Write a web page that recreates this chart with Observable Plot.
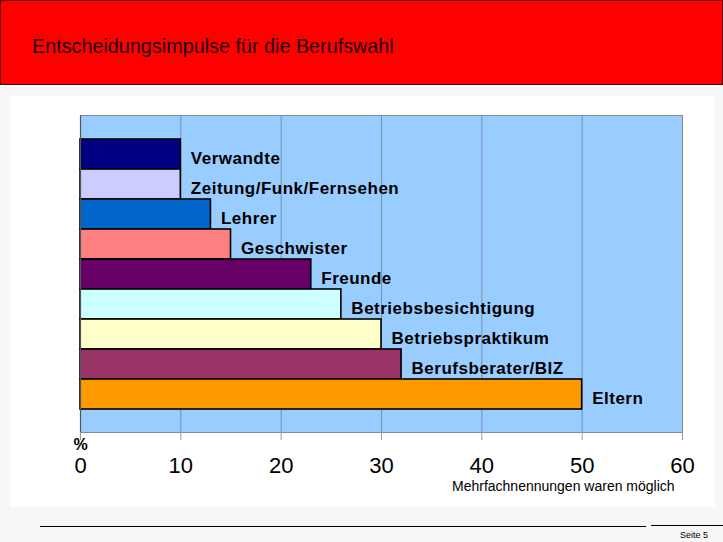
<!DOCTYPE html>
<html>
<head>
<meta charset="utf-8">
<script src="https://cdn.jsdelivr.net/npm/d3@7"></script>
<script src="https://cdn.jsdelivr.net/npm/@observablehq/plot@0.6"></script>
<style>
  html, body { margin: 0; padding: 0; }
  body { width: 723px; height: 542px; overflow: hidden; background: #f7f7f7; font-family: Arial, "Liberation Sans", sans-serif; }
  #page { position: relative; width: 723px; height: 542px; }
  #header { position: absolute; left: 0; top: 0; width: 721px; height: 83px; background: #ff0000; border: 1px solid #5a0000; }
  #title { position: absolute; left: 31px; top: 34px; font-size: 19.8px; color: #1a0000; white-space: nowrap; }
  #panel { position: absolute; left: 10px; top: 96px; width: 705px; height: 411px; background: #ffffff; }
  #chart { position: absolute; left: 0; top: 96px; }
  #note { position: absolute; left: 452px; top: 478px; font-size: 14px; color: #000; white-space: nowrap; }
  #line1 { position: absolute; left: 40px; top: 526px; width: 606px; height: 1px; background: #000; }
  #line2 { position: absolute; left: 651px; top: 525px; width: 72px; height: 1px; background: #000; }
  #seite { position: absolute; left: 680px; top: 530px; font-size: 9px; color: #000; white-space: nowrap; }
  .barlabels { letter-spacing: 0.5px; }
</style>
</head>
<body>
<div id="page">
  <div id="header"><div id="title">Entscheidungsimpulse für die Berufswahl</div></div>
  <div id="panel"></div>
  <div id="chart"></div>
  <div id="note">Mehrfachnennungen waren möglich</div>
  <div id="line1"></div>
  <div id="line2"></div>
  <div id="seite">Seite 5</div>
</div>
<script>
const categories = ["Verwandte", "Zeitung/Funk/Fernsehen", "Lehrer", "Geschwister", "Freunde", "Betriebsbesichtigung", "Betriebspraktikum", "Berufsberater/BIZ", "Eltern"];
const values = [10, 10, 13, 15, 23, 26, 30, 32, 50];
const colors = ["#000080", "#ccccff", "#0066cc", "#ff8080", "#660066", "#ccffff", "#ffffcc", "#993366", "#ff9900"];
const xTicks = [0, 10, 20, 30, 40, 50, 60];
const gridTicks = [10, 20, 30, 40, 50];

const data = categories.map((c, i) => ({category: c, value: values[i], color: colors[i]}));

const chart = Plot.plot({
  width: 723,
  height: 411,
  marginLeft: 80,
  marginRight: 41,
  marginTop: 19,
  marginBottom: 75,
  style: {background: "transparent", fontFamily: "Arial, 'Liberation Sans', sans-serif", color: "#000"},
  x: {domain: [0, 60], ticks: xTicks, label: null},
  y: {domain: categories, paddingInner: 0, paddingOuter: 0.73, axis: null},
  marks: [
    Plot.frame({fill: "#99ccff", stroke: "#8a8a8a"}),
    Plot.ruleX(gridTicks, {stroke: "#6f8299", strokeWidth: 0.8}),
    Plot.barX(data, {y: "category", x: "value", fill: "color", stroke: "#000", strokeWidth: 1.6}),
    Plot.text(data, {y: "category", x: "value", text: "category", textAnchor: "start", dx: 10, dy: 4, fontSize: 17, fontWeight: "bold", fill: "#000", className: "barlabels"}),
    Plot.ruleX([0], {stroke: "#555", strokeWidth: 1.2}),
    Plot.axisX({ticks: xTicks, tickSize: 8, tickPadding: 17, fontSize: 22, stroke: "#999", label: null}),
    Plot.text(["%"], {frameAnchor: "bottom-left", dx: -7, dy: 17, fontSize: 16, fontWeight: "bold", fill: "#000"})
  ]
});
document.getElementById("chart").appendChild(chart);
</script>
</body>
</html>
